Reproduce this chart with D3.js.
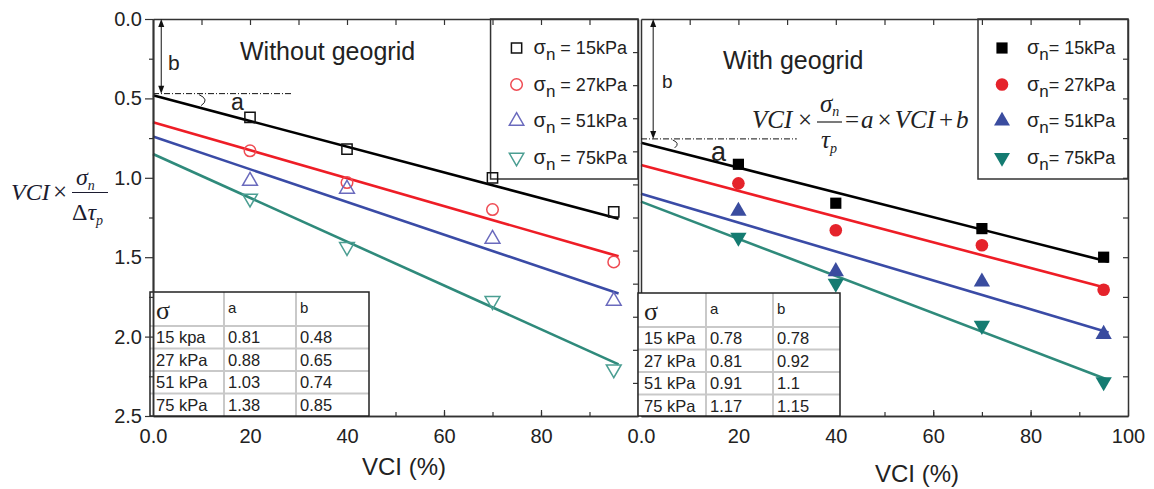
<!DOCTYPE html>
<html>
<head>
<meta charset="utf-8">
<script src="https://cdn.jsdelivr.net/npm/d3@7"></script>
<style>
body { margin: 0; background: #fff; }
svg text { font-family: Arial, "Liberation Sans", sans-serif; fill: #222; }
.serif { font-family: "Times New Roman", "Liberation Serif", serif; font-style: italic; }
</style>
</head>
<body>
<div id="chart"></div>
<script>
// VCI values where the tests were done
var vci = [20, 40, 70, 95];
var stressNames = ["15kPa", "27kPa", "51kPa", "75kPa"];

// Without geogrid (open markers)
var noGrid15 = [0.62, 0.82, 1.00, 1.215];
var noGrid27 = [0.83, 1.03, 1.20, 1.53];
var noGrid51 = [1.02, 1.07, 1.385, 1.775];
var noGrid75 = [1.13, 1.435, 1.775, 2.205];
var noGridA = [0.81, 0.88, 1.03, 1.38];
var noGridB = [0.48, 0.65, 0.74, 0.85];
var noGridRows = ["15 kpa", "27 kPa", "51 kPa", "75 kPa"];

// With geogrid (filled markers)
var grid15 = [0.915, 1.16, 1.32, 1.50];
var grid27 = [1.035, 1.33, 1.425, 1.705];
var grid51 = [1.21, 1.59, 1.655, 1.985];
var grid75 = [1.375, 1.665, 1.93, 2.285];
var gridA = [0.78, 0.81, 0.91, 1.17];
var gridB = [0.78, 0.92, 1.1, 1.15];
var gridRows = ["15 kPa", "27 kPa", "51 kPa", "75 kPa"];
var gridAText = ["0.78", "0.81", "0.91", "1.17"];
var gridBText = ["0.78", "0.92", "1.1", "1.15"];

var yTicks = [0, 0.5, 1.0, 1.5, 2.0, 2.5];
var yMinor = [0.25, 0.75, 1.25, 1.75, 2.25];
var xTicksLeft = [0, 20, 40, 60, 80];
var xTicksRight = [0, 20, 40, 60, 80, 100];

var lineColors = ["#000000", "#ee1d26", "#3a4ba6", "#2f8a7b"];
var openColors = ["#111111", "#ef4b53", "#6a6abd", "#4b9e92"];
var fillColors = ["#000000", "#e5232b", "#3a4c9f", "#147b71"];
var shapes = [d3.symbolSquare, d3.symbolCircle, d3.symbolTriangle, d3.symbolTriangle];

var svg = d3.select("#chart").append("svg")
    .attr("width", 1154)
    .attr("height", 489);

var y = d3.scaleLinear().domain([0, 2.5]).range([19, 416]);
var xL = d3.scaleLinear().domain([0, 100]).range([153, 638]);
var xR = d3.scaleLinear().domain([0, 100]).range([641, 1128]);

function styleAxis(g) {
    g.selectAll("path.domain").attr("stroke", "#333").attr("stroke-width", 1.5);
    g.selectAll(".tick line").attr("stroke", "#333").attr("stroke-width", 1.2);
    g.selectAll("text").attr("font-size", 20).attr("fill", "#222")
        .style("font-family", "Arial, 'Liberation Sans', sans-serif");
}

function fmtX(d) { return d === 0 ? "0.0" : d; }

function markerPath(i, size) {
    return d3.symbol().type(shapes[i]).size(size)();
}

function drawPanel(x, series, aVals, bVals, open, opt) {
    // bottom axis (under tables)
    svg.append("g").attr("transform", "translate(0,416)")
        .call(d3.axisBottom(x).tickValues(d3.range(10, 100, 10)).tickSize(-4).tickSizeOuter(0).tickFormat(""))
        .call(styleAxis);
    svg.append("g").attr("transform", "translate(0,416)")
        .call(d3.axisBottom(x).tickValues(opt.xTicks).tickSize(-6).tickSizeOuter(0).tickPadding(13).tickFormat(fmtX))
        .call(styleAxis);

    // fitted lines
    series.forEach(function(s, i) {
        var pts = [[0, bVals[i]], [96, bVals[i] + aVals[i] * 0.96]];
        svg.append("path")
            .attr("d", d3.line().x(function(d){ return x(d[0]); }).y(function(d){ return y(d[1]); })(pts))
            .attr("stroke", lineColors[i])
            .attr("stroke-width", 2.6)
            .attr("fill", "none");
    });

    // legend
    var lg = svg.append("g");
    lg.append("rect")
        .attr("x", x(opt.legendX)).attr("y", 19)
        .attr("width", x(100) - x(opt.legendX)).attr("height", 160)
        .attr("fill", "#fff").attr("stroke", "#333").attr("stroke-width", 1.5);
    stressNames.forEach(function(n, i) {
        var ly = 48 + i * 36.5;
        var sz = open ? (i < 2 ? 105 : 90) : (i < 2 ? 125 : 110);
        lg.append("path")
            .attr("d", markerPath(i, sz))
            .attr("transform", "translate(" + (x(opt.legendX) + opt.markerDx) + "," + ly + ")" + (i === 3 ? " rotate(180)" : ""))
            .attr("fill", open ? "none" : fillColors[i])
            .attr("stroke", open ? openColors[i] : "none")
            .attr("stroke-width", 1.5);
        var t = lg.append("text")
            .attr("x", x(opt.legendX) + opt.textDx)
            .attr("y", ly + 6)
            .attr("font-size", 18);
        t.append("tspan").text("σ").attr("font-size", 20);
        t.append("tspan").text("n").attr("dy", 6).attr("font-size", 17);
        t.append("tspan").text(opt.eqSpace + "= " + n).attr("dy", -6);
    });

    // data markers
    series.forEach(function(s, i) {
        svg.append("g").selectAll("path")
            .data(s)
            .enter()
            .append("path")
            .attr("d", markerPath(i, open ? (i < 2 ? 105 : 95) : (i < 2 ? 125 : 115)))
            .attr("transform", function(d, j) {
                return "translate(" + x(vci[j]) + "," + y(d) + ")" + (i === 3 ? " rotate(180)" : "");
            })
            .attr("fill", open ? "none" : fillColors[i])
            .attr("stroke", open ? openColors[i] : "none")
            .attr("stroke-width", 1.5);
    });

    // top axis and right edge
    svg.append("g").attr("transform", "translate(0,19)")
        .call(d3.axisTop(x).tickValues(d3.range(10, 100, 10)).tickSize(-6).tickSizeOuter(0).tickFormat(""))
        .call(styleAxis);
    svg.append("g").attr("transform", "translate(" + x(100) + ",0)")
        .call(d3.axisRight(y).tickValues(opt.rightTicks).tickSize(-5).tickSizeOuter(0).tickFormat(""))
        .call(styleAxis);
    svg.append("g").attr("transform", "translate(" + x(0) + ",0)")
        .call(d3.axisLeft(y).tickValues([]).tickSizeOuter(0))
        .call(styleAxis);

    // annotation for a and b
    var by = y(opt.bLevel);
    var ax = x(opt.arrowVci);
    svg.append("line").attr("x1", ax).attr("x2", ax).attr("y1", y(0) + 4).attr("y2", by - 4)
        .attr("stroke", "#111").attr("stroke-width", 1);
    svg.append("path").attr("d", "M" + ax + "," + y(0) + "l-3,8h6z").attr("fill", "#111");
    svg.append("path").attr("d", "M" + ax + "," + by + "l-3,-8h6z").attr("fill", "#111");
    svg.append("line").attr("x1", x(0)).attr("x2", x(opt.dashEnd)).attr("y1", by).attr("y2", by)
        .attr("stroke", "#111").attr("stroke-width", 1).attr("stroke-dasharray", "6,2,1,2");
    var cx = x(opt.arcVci);
    svg.append("path")
        .attr("d", "M" + cx + "," + (by + 1) + " Q" + (cx + opt.arcW) + "," + (by + opt.arcH / 2) + " " + (cx + 2) + "," + (by + opt.arcH))
        .attr("fill", "none").attr("stroke", "#222").attr("stroke-width", 1);
    svg.append("text").attr("x", opt.bPos[0]).attr("y", opt.bPos[1]).attr("font-size", opt.bSize).text("b");
    svg.append("text").attr("x", opt.aPos[0]).attr("y", opt.aPos[1]).attr("font-size", opt.aSize).text("a");

    // title
    svg.append("text").attr("x", opt.titlePos[0]).attr("y", opt.titlePos[1])
        .attr("font-size", 25).text(opt.title);

    // x label
    svg.append("text").attr("x", opt.xLabelPos[0]).attr("y", opt.xLabelPos[1])
        .attr("text-anchor", "middle").attr("font-size", 24).text("VCI (%)");

    // table
    var tb = opt.table;
    var tg = svg.append("g");
    tg.append("rect").attr("x", tb.x0).attr("y", tb.y0)
        .attr("width", tb.x3 - tb.x0).attr("height", 416 - tb.y0)
        .attr("fill", "#fff");
    var rowY = [tb.y0 + 34, tb.y0 + 34 + 22.5, tb.y0 + 34 + 45, tb.y0 + 34 + 67.5];
    rowY.forEach(function(ry) {
        tg.append("line").attr("x1", tb.x0).attr("x2", tb.x3).attr("y1", ry).attr("y2", ry)
            .attr("stroke", "#c9c9c9").attr("stroke-width", 2);
    });
    [tb.x1, tb.x2].forEach(function(cxl) {
        tg.append("line").attr("x1", cxl).attr("x2", cxl).attr("y1", tb.y0).attr("y2", 416)
            .attr("stroke", "#c9c9c9").attr("stroke-width", 2);
    });
    tg.append("path")
        .attr("d", "M" + tb.x0 + ",416V" + tb.y0 + "H" + tb.x3 + "V416")
        .attr("fill", "none").attr("stroke", "#222").attr("stroke-width", 1.5);
    tg.append("line").attr("x1", tb.x0).attr("x2", tb.x3).attr("y1", 416).attr("y2", 416)
        .attr("stroke", "#222").attr("stroke-width", 1.5);
    tg.append("text").attr("x", tb.x0 + 6).attr("y", tb.y0 + 27)
        .attr("font-size", 26).style("font-family", "'Times New Roman','Liberation Serif',serif").text("σ");
    tg.append("text").attr("x", tb.x1 + 4).attr("y", tb.y0 + 21).attr("font-size", 15).text("a");
    tg.append("text").attr("x", tb.x2 + 4).attr("y", tb.y0 + 21).attr("font-size", 15).text("b");
    opt.rows.forEach(function(r, i) {
        var base = tb.y0 + 34 + 22.5 * i + 17;
        tg.append("text").attr("x", tb.x0 + 6).attr("y", base).attr("font-size", 16.5).text(r);
        tg.append("text").attr("x", tb.x1 + 4).attr("y", base).attr("font-size", 16.5).text(opt.aText[i]);
        tg.append("text").attr("x", tb.x2 + 4).attr("y", base).attr("font-size", 16.5).text(opt.bText[i]);
    });
}

drawPanel(xL, [noGrid15, noGrid27, noGrid51, noGrid75], noGridA, noGridB, true, {
    xTicks: xTicksLeft,
    legendX: 69.6, markerDx: 26, textDx: 43, eqSpace: " ",
    rightTicks: d3.range(1, 12).map(function(k){ return 2.5 * k / 12; }),
    bLevel: 0.47, arrowVci: 1.7, dashEnd: 28.5, arcVci: 9.5, arcW: 11, arcH: 12,
    bPos: [168, 70], bSize: 21, aPos: [231, 110], aSize: 23,
    title: "Without geogrid", titlePos: [240, 60],
    xLabelPos: [404, 475],
    table: { x0: 150, x1: 224, x2: 296, x3: 369, y0: 292 },
    rows: noGridRows,
    aText: noGridA.map(function(v){ return v.toFixed(2); }),
    bText: noGridB.map(function(v){ return v.toFixed(2); })
});

drawPanel(xR, [grid15, grid27, grid51, grid75], gridA, gridB, false, {
    xTicks: xTicksRight,
    legendX: 69.2, markerDx: 24, textDx: 49, eqSpace: "",
    rightTicks: d3.range(0.25, 2.5, 0.25),
    bLevel: 0.755, arrowVci: 2.5, dashEnd: 32, arcVci: 6.5, arcW: 8, arcH: 9,
    bPos: [662, 88], bSize: 19, aPos: [711, 161], aSize: 27,
    title: "With geogrid", titlePos: [723, 69],
    xLabelPos: [917, 482],
    table: { x0: 638, x1: 706, x2: 773, x3: 840, y0: 293 },
    rows: gridRows,
    aText: gridAText,
    bText: gridBText
});

// left y axis with labels
svg.append("g").attr("transform", "translate(153,0)")
    .call(d3.axisLeft(y).tickValues(yMinor).tickSize(4).tickSizeOuter(0).tickFormat(""))
    .call(styleAxis);
svg.append("g").attr("transform", "translate(153,0)")
    .call(d3.axisLeft(y).tickValues(yTicks).tickSize(8).tickSizeOuter(0).tickPadding(3).tickFormat(d3.format(".1f")))
    .call(styleAxis);

// y axis label: VCI x sigma_n / delta tau_p
var yl = svg.append("g");
yl.append("text").attr("class", "serif").attr("x", 11).attr("y", 200).attr("font-size", 24).style("fill", "#1c1c30").text("VCI");
yl.append("text").attr("x", 53).attr("y", 200).attr("font-size", 25).style("fill", "#1c1c30")
    .style("font-family", "'Times New Roman','Liberation Serif',serif").text("×");
yl.append("line").attr("x1", 72).attr("x2", 108).attr("y1", 192.5).attr("y2", 192.5).attr("stroke", "#1c1c30").attr("stroke-width", 1.2);
var num = yl.append("text").attr("class", "serif").attr("x", 76).attr("y", 185).attr("font-size", 24).style("fill", "#1c1c30");
num.append("tspan").text("σ");
num.append("tspan").text("n").attr("font-size", 14).attr("dy", 5);
var den = yl.append("text").attr("class", "serif").attr("x", 72).attr("y", 220).attr("font-size", 24).style("fill", "#1c1c30");
den.append("tspan").text("Δ").style("font-style", "normal");
den.append("tspan").text("τ");
den.append("tspan").text("p").attr("font-size", 14).attr("dy", 5);

// equation in right panel
var eq = svg.append("g");
eq.append("text").attr("class", "serif").attr("x", 752).attr("y", 128).attr("font-size", 25).text("VCI");
eq.append("text").attr("x", 798).attr("y", 128).attr("font-size", 25)
    .style("font-family", "'Times New Roman','Liberation Serif',serif").text("×");
eq.append("line").attr("x1", 817).attr("x2", 842).attr("y1", 122).attr("y2", 122).attr("stroke", "#222").attr("stroke-width", 1.2);
var en = eq.append("text").attr("class", "serif").attr("x", 820).attr("y", 112).attr("font-size", 25);
en.append("tspan").text("σ");
en.append("tspan").text("n").attr("font-size", 14).attr("dy", 4);
var ed = eq.append("text").attr("class", "serif").attr("x", 821).attr("y", 148).attr("font-size", 25);
ed.append("tspan").text("τ");
ed.append("tspan").text("p").attr("font-size", 14).attr("dy", 5);
var er = eq.append("text").attr("class", "serif").attr("x", 845).attr("y", 128).attr("font-size", 25);
er.append("tspan").text("=").style("font-style", "normal");
er.append("tspan").text("a").attr("dx", 2);
er.append("tspan").text("×").style("font-style", "normal").attr("dx", 4);
er.append("tspan").text("VCI").attr("dx", 3);
er.append("tspan").text("+").style("font-style", "normal").attr("dx", 4);
er.append("tspan").text("b").attr("dx", 3);
</script>
</body>
</html>
